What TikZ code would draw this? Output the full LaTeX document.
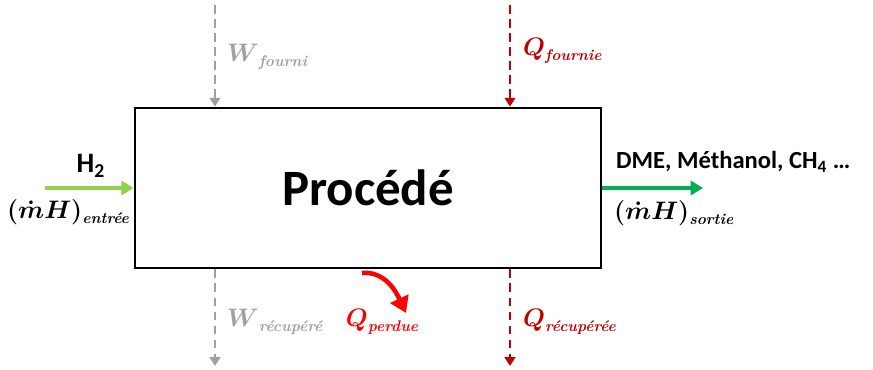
\documentclass[tikz,border=0pt]{standalone}
\usepackage{amsmath}
\usepackage{fontspec}
\usepackage{tikz}
\usetikzlibrary{arrows.meta, positioning, calc}
\newfontfamily\calibri{Carlito}
\definecolor{vertclair}{RGB}{146,208,80}
\definecolor{vertfonce}{RGB}{0,176,80}
\definecolor{rougefonce}{RGB}{192,0,0}
\definecolor{gris}{RGB}{160,160,160}
\newcommand{\sub}[1]{\raisebox{-0.5ex}{\fontsize{8.8}{11}\selectfont\bfseries\itshape #1}}

\begin{document}
\begin{tikzpicture}[x=0.02cm, y=-0.02cm,
  flux/.style={line width=2.2pt, -{Triangle[length=7pt,width=8pt]}},
  energie/.style={line width=1.6pt, dashed, dash pattern=on 5pt off 3pt, -{Triangle[length=5pt,width=6pt]}},
  etiq/.style={font=\boldmath\fontsize{13.5}{16}\selectfont, inner sep=1pt}]
  \useasboundingbox (0,0) rectangle (873,369);

  % Boite du procede
  \node[draw, line width=1.6pt, minimum width=9.32cm, minimum height=3.2cm,
        font=\calibri\bfseries\fontsize{29}{34}\selectfont] (proc) at (368,188) {Procédé};

  % Flux matiere
  \coordinate (entree) at (45,188);
  \coordinate (sortie) at (703,188);
  \draw[flux, vertclair] (entree) -- (proc.west);
  \draw[flux, vertfonce] (proc.east) -- (sortie);
  \node[font=\calibri\bfseries\fontsize{16}{18}\selectfont] (h2) at (91,166) {H\textsubscript{2}};
  \node[etiq] (hin) at (68,212) {$(\dot{m}\boldsymbol{H})$\sub{entrée}};
  \node[font=\calibri\bfseries\fontsize{14}{16}\selectfont, anchor=west] (prod) at (610,162) {DME, Méthanol, CH\textsubscript{4} \dots};
  \node[etiq, anchor=west] (hout) at (612,213) {$(\dot{m}\boldsymbol{H})$\sub{sortie}};

  % Energies
  \coordinate (wf) at (215,5);
  \coordinate (qf) at (510,5);
  \coordinate (wr) at (215,366);
  \coordinate (qr) at (510,366);
  \draw[energie, gris] (wf) -- (wf |- proc.north);
  \draw[energie, rougefonce] (qf) -- (qf |- proc.north);
  \draw[energie, gris] (wr |- proc.south) -- (wr);
  \draw[energie, rougefonce] (qr |- proc.south) -- (qr);
  \node[etiq, gris, anchor=west] (lwf) at (225,57) {$\boldsymbol{W}$\sub{fourni}};
  \node[etiq, rougefonce, anchor=west] (lqf) at (521,51) {$\boldsymbol{Q}$\sub{fournie}};
  \node[etiq, gris, anchor=west] (lwr) at (225,322) {$\boldsymbol{W}$\sub{récupéré}};
  \node[etiq, rougefonce, anchor=west] (lqr) at (521,322) {$\boldsymbol{Q}$\sub{récupérée}};

  % Pertes
  \coordinate (qp0) at (362,273);
  \coordinate (qp1) at (406,313);
  \draw[red, line width=2.6pt, -{Triangle[length=9pt,width=11pt]}]
    (qp0) to[out=5, in=115] (qp1);
  \node[etiq, red] (lqp) at (382,322) {$\boldsymbol{Q}$\sub{perdue}};
\end{tikzpicture}
\end{document}
